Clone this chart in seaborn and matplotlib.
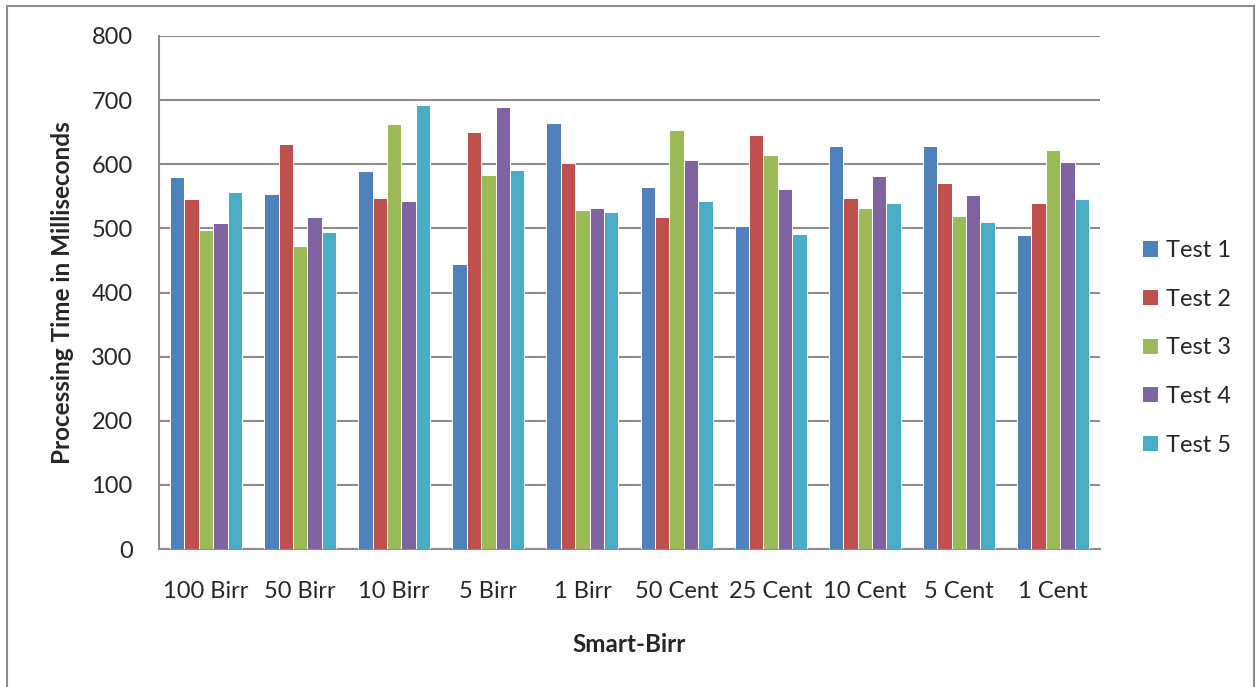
import matplotlib
matplotlib.use("Agg")
import matplotlib.pyplot as plt
from matplotlib.patches import Rectangle
from matplotlib.ticker import FixedLocator, NullFormatter
import numpy as np
import pandas as pd
import seaborn as sns

# Denominations tested and processing times (ms) for each of the five test runs
denominations = ["100 Birr", "50 Birr", "10 Birr", "5 Birr", "1 Birr",
                 "50 Cent", "25 Cent", "10 Cent", "5 Cent", "1 Cent"]
test_names = ["Test 1", "Test 2", "Test 3", "Test 4", "Test 5"]
test1 = [580, 554, 590, 445, 665, 564, 504, 628, 628, 489]
test2 = [546, 632, 548, 651, 602, 518, 645, 548, 571, 539]
test3 = [498, 473, 663, 584, 529, 654, 614, 531, 520, 623]
test4 = [509, 517, 543, 689, 532, 607, 562, 582, 552, 604]
test5 = [557, 495, 693, 591, 525, 542, 492, 539, 510, 546]
y_ticks = [0, 100, 200, 300, 400, 500, 600, 700, 800]
colors = ["#4F81BD", "#C0504D", "#9BBB59", "#8064A2", "#4BACC6"]

series = [test1, test2, test3, test4, test5]
df = pd.DataFrame({
    "Denomination": np.repeat([denominations], len(test_names), axis=0).ravel(),
    "Test": np.repeat(test_names, len(denominations)),
    "Time": np.concatenate(series),
})

sns.set_style("white")
plt.rcParams["font.family"] = ["Lato", "DejaVu Sans"]

W, H = 1255, 687
fig = plt.figure(figsize=(W / 100, H / 100), dpi=100)
ax = fig.add_axes([159 / W, 1 - 549 / H, (1100 - 159) / W, (549 - 36) / H])

grid_col = "#8C8C8C"
sns.barplot(data=df, x="Denomination", y="Time", hue="Test",
            order=denominations, hue_order=test_names, palette=colors,
            saturation=1, width=0.765, edgecolor="white", linewidth=0.7,
            errorbar=None, ax=ax, zorder=3)

ax.set_ylim(0, 800)
ax.set_xlim(-0.5, len(denominations) - 0.5)
ax.set_yticks(y_ticks)
ax.set_yticklabels([str(v) for v in y_ticks])
ax.yaxis.grid(True, color=grid_col, linewidth=1.5, zorder=0)
ax.set_axisbelow(True)

# category labels centred, tick marks on the group boundaries
ax.tick_params(axis="x", which="major", length=0, pad=23, labelsize=17)
ax.xaxis.set_minor_locator(FixedLocator(np.arange(-0.5, len(denominations), 1.0)))
ax.xaxis.set_minor_formatter(NullFormatter())
ax.tick_params(axis="x", which="minor", length=6.5, width=1.5, color=grid_col,
               direction="out")
ax.tick_params(axis="y", length=6, width=1.5, color=grid_col, direction="out",
               pad=13, labelsize=17)

for side in ("top", "right"):
    ax.spines[side].set_visible(False)
for side in ("left", "bottom"):
    ax.spines[side].set_color(grid_col)
    ax.spines[side].set_linewidth(1.5)

ax.set_xlabel("Smart-Birr", fontsize=17.5, fontweight="bold", labelpad=22.5)
ax.set_ylabel("Processing Time in Milliseconds", fontsize=17.5, fontweight="bold",
              labelpad=12.5)

leg = ax.legend(loc="center left", bbox_to_anchor=(1143 / W, 1 - 348 / H),
                bbox_transform=fig.transFigure, frameon=False, fontsize=17,
                handlelength=0.62, handleheight=0.62, handletextpad=0.35,
                labelspacing=1.17, borderpad=0, borderaxespad=0)
for h in leg.legend_handles:
    h.set_edgecolor("none")

# outer chart frame
fig.patches.append(Rectangle((7 / W, -0.01), (1254 - 7) / W, 1 - 6 / H + 0.01,
                             transform=fig.transFigure, fill=False,
                             edgecolor="#8C8C8C", linewidth=1.5))

fig.savefig("out.png", dpi=100)
